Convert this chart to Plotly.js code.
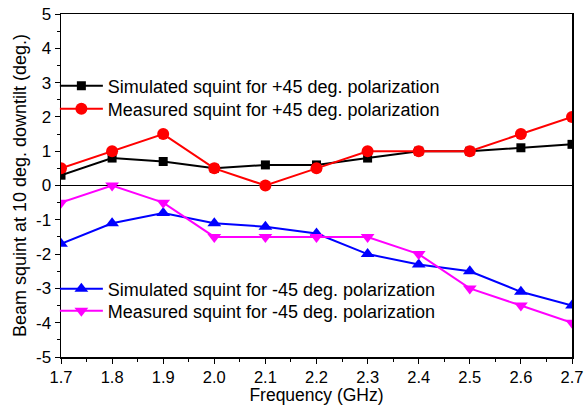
<!DOCTYPE html>
<html><head><meta charset="utf-8">
<script src="https://cdn.plot.ly/plotly-3.0.1.min.js"></script>
<style>html,body{margin:0;padding:0;background:#fff}#c{width:584px;height:405px}</style>
</head><body><div id="c"></div>
<script>
const freq = [1.7, 1.8, 1.9, 2.0, 2.1, 2.2, 2.3, 2.4, 2.5, 2.6, 2.7];
const simPlus = [0.3, 0.8, 0.7, 0.5, 0.6, 0.6, 0.8, 1.0, 1.0, 1.1, 1.2];
const measPlus = [0.5, 1.0, 1.5, 0.5, 0.0, 0.5, 1.0, 1.0, 1.0, 1.5, 2.0];
const simMinus = [-1.7, -1.1, -0.8, -1.1, -1.2, -1.4, -2.0, -2.3, -2.5, -3.1, -3.5];
const measMinus = [-0.5, 0.0, -0.5, -1.5, -1.5, -1.5, -1.5, -2.0, -3.0, -3.5, -4.0];
const names = [
  "Simulated squint for +45 deg. polarization",
  "Measured squint for +45 deg. polarization",
  "Simulated squint for -45 deg. polarization",
  "Measured squint for -45 deg. polarization"
];
const xTicks = ["1.7","1.8","1.9","2.0","2.1","2.2","2.3","2.4","2.5","2.6","2.7"];
const yVals = [-5, -4, -3, -2, -1, 0, 1, 2, 3, 4, 5];
const yTicks = ["-5","-4","-3","-2","-1","0","1","2","3","4","5"];

const traces = [
  {x: freq, y: simPlus, name: names[0], mode: "lines+markers", legend: "legend",
   line: {color: "#000000", width: 2}, marker: {symbol: "square", size: 9, color: "#000000"}},
  {x: freq, y: measPlus, name: names[1], mode: "lines+markers", legend: "legend2",
   line: {color: "#ff0000", width: 2}, marker: {symbol: "circle", size: 12, color: "#ff0000"}},
  {x: freq, y: simMinus, name: names[2], mode: "lines+markers", legend: "legend3",
   line: {color: "#0000ff", width: 2}, marker: {symbol: "triangle-up", size: 12, color: "#0000ff"}},
  {x: freq, y: measMinus, name: names[3], mode: "lines+markers", legend: "legend4",
   line: {color: "#ff00ff", width: 2}, marker: {symbol: "triangle-down", size: 12, color: "#ff00ff"}}
];

const ff = "Liberation Sans, Arial, sans-serif";
function leg(y) {
  return {x: -0.012, y: y, xanchor: "left", yanchor: "middle", bgcolor: "rgba(0,0,0,0)",
    font: {size: 18, family: ff}, itemwidth: 43};
}
const layout = {
  width: 584, height: 405,
  margin: {l: 61, r: 12, t: 14, b: 48},
  paper_bgcolor: "#fff", plot_bgcolor: "#fff",
  font: {family: ff, color: "#000"},
  showlegend: true,
  xaxis: {
    range: [1.7, 2.7], tickvals: freq, ticktext: xTicks,
    ticks: "outside", ticklen: 5, tickwidth: 1, tickcolor: "#000",
    minor: {dtick: 0.05, ticks: "outside", ticklen: 3, tickcolor: "#000"},
    showline: true, linecolor: "#000", linewidth: 1.5, mirror: true,
    showgrid: false, zeroline: false, ticklabeloverflow: "allow",
    tickfont: {size: 16.5, family: ff},
    title: {text: "Frequency (GHz)", font: {size: 17.5, family: ff}, standoff: 4}
  },
  yaxis: {
    range: [-5, 5], tickvals: yVals, ticktext: yTicks,
    ticks: "outside", ticklen: 5, tickwidth: 1, tickcolor: "#000",
    minor: {dtick: 0.5, ticks: "outside", ticklen: 3, tickcolor: "#000"},
    showline: true, linecolor: "#000", linewidth: 1.5, mirror: true,
    showgrid: false, zeroline: true, zerolinecolor: "#000", zerolinewidth: 1,
    tickfont: {size: 17, family: ff},
    title: {text: "Beam squint at 10 deg. downtilt (deg.)", font: {size: 18, family: ff}, standoff: 4}
  },
  legend: leg(0.790),
  legend2: leg(0.723),
  legend3: leg(0.198),
  legend4: leg(0.134)
};
Plotly.newPlot("c", traces, layout, {displayModeBar: false, staticPlot: true});
</script></body></html>
